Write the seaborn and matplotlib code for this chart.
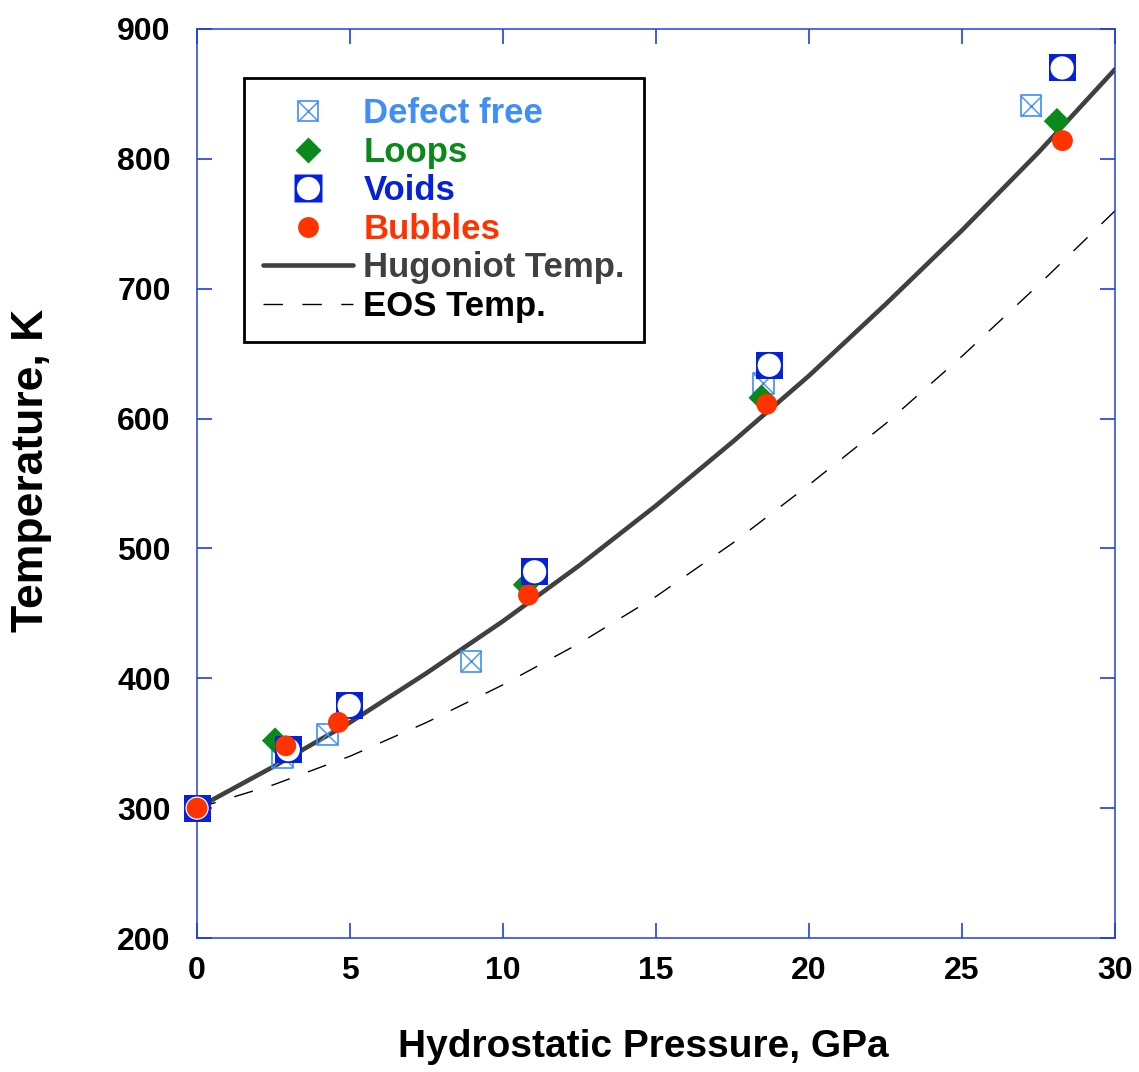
import numpy as np
import pandas as pd
import seaborn as sns
import matplotlib
matplotlib.use("Agg")
import matplotlib.pyplot as plt
from matplotlib.lines import Line2D
from matplotlib.legend_handler import HandlerTuple

# ---------------- data ----------------
defect_P = [2.8, 4.25, 8.95, 18.5, 27.25]
defect_T = [339, 357, 413, 627, 841]

loops_P = [2.55, 10.75, 18.45, 28.1]
loops_T = [352, 472, 616, 829]

voids_P = [0.0, 2.98, 4.97, 11.03, 18.7, 28.27]
voids_T = [300, 345, 379, 482, 641, 870]

bubbles_P = [0.0, 2.9, 4.62, 10.83, 18.62, 28.28]
bubbles_T = [300, 348, 366, 464, 611, 814]

hug_P = [0, 2.5, 5, 7.5, 10, 12.5, 15, 17.5, 20, 22.5, 25, 27.5, 30]
hug_T = [300, 332, 366, 404, 444, 487, 533, 582, 633, 688, 745, 805, 869]

eos_P = [0, 2.5, 5, 7.5, 10, 12.5, 15, 17.5, 20, 22.5, 25, 27.5, 30]
eos_T = [300, 318, 340, 366, 395, 427, 463, 504, 549, 596, 648, 703, 760]

x_ticks = [0, 5, 10, 15, 20, 25, 30]
y_ticks = [200, 300, 400, 500, 600, 700, 800, 900]

labels = ["Defect free", "Loops", "Voids", "Bubbles", "Hugoniot Temp.", "EOS Temp."]

# ---------------- style ----------------
c_defect = "#3f8ff7"
c_loops = "#0a8a1a"
c_voids = "#0622d8"
c_bubbles = "#ff3300"
c_hug = "#404040"
c_eos = "#000000"
c_axis = "#1f3fe0"

sns.set_theme(style="white")
plt.rcParams["font.family"] = ["Liberation Sans", "DejaVu Sans"]
plt.rcParams["font.weight"] = "bold"

fig = plt.figure(figsize=(11.39, 10.72), dpi=100)
ax = fig.add_axes([0.173, 0.125, 0.806, 0.848])

# curves
sns.lineplot(x=hug_P, y=hug_T, ax=ax, color=c_hug, lw=3.3, zorder=2)
sns.lineplot(x=eos_P, y=eos_T, ax=ax, color=c_eos, lw=1.0, zorder=2)
ax.lines[1].set_dashes((14, 14))

# markers
sns.scatterplot(x=defect_P, y=defect_T, ax=ax, marker="s", s=225,
                facecolors="none", edgecolors=c_defect, linewidths=1.2,
                zorder=3, clip_on=False)
sns.scatterplot(x=defect_P, y=defect_T, ax=ax, marker="x", s=225,
                color=c_defect, linewidths=1.0, zorder=3, clip_on=False)
sns.scatterplot(x=loops_P, y=loops_T, ax=ax, marker="D", s=180,
                color=c_loops, edgecolor="none", linewidth=0, zorder=4, clip_on=False)
sns.scatterplot(x=voids_P, y=voids_T, ax=ax, marker="s", s=380,
                color=c_voids, edgecolor="none", linewidth=0, zorder=5, clip_on=False)
sns.scatterplot(x=voids_P, y=voids_T, ax=ax, marker="o", s=280,
                color="white", edgecolor="none", linewidth=0, zorder=6, clip_on=False)
sns.scatterplot(x=bubbles_P, y=bubbles_T, ax=ax, marker="o", s=225,
                color=c_bubbles, edgecolor="none", linewidth=0, zorder=7, clip_on=False)

# axes
ax.set_xlim(0, 30)
ax.set_ylim(200, 900)
ax.set_xticks(x_ticks)
ax.set_yticks(y_ticks)
ax.set_xticklabels([str(v) for v in x_ticks])
ax.set_yticklabels([str(v) for v in y_ticks])
ax.grid(False)
for sp in ax.spines.values():
    sp.set_color(c_axis)
    sp.set_linewidth(1.1)
    sp.set_visible(True)
ax.tick_params(axis="both", which="major", direction="in", length=11, width=1.2,
               color=c_axis, top=True, right=True, bottom=True, left=True,
               labelsize=23, labelcolor="black")
ax.tick_params(axis="y", pad=19)
ax.tick_params(axis="x", pad=13)
for t in ax.get_xticklabels() + ax.get_yticklabels():
    t.set_fontweight("bold")

ax.set_xlabel("Hydrostatic Pressure, GPa", fontsize=28, fontweight="bold", color="black")
ax.set_ylabel("Temperature, K", fontsize=32, fontweight="bold", color="black")
ax.xaxis.set_label_coords(0.486, -0.1)
ax.yaxis.set_label_coords(-0.158, 0.514)

# legend
h_defect = (Line2D([], [], ls="none", marker="s", ms=15, mfc="none", mec=c_defect, mew=1.2),
            Line2D([], [], ls="none", marker="x", ms=15, mec=c_defect, mew=1.0))
h_loops = Line2D([], [], ls="none", marker="D", ms=13.4, mfc=c_loops, mec="none")
h_voids = (Line2D([], [], ls="none", marker="s", ms=19.5, mfc=c_voids, mec="none"),
           Line2D([], [], ls="none", marker="o", ms=16.7, mfc="white", mec="none"))
h_bubbles = Line2D([], [], ls="none", marker="o", ms=15, mfc=c_bubbles, mec="none")
h_hug = Line2D([], [], color=c_hug, lw=3.3)
h_eos = Line2D([], [], color=c_eos, lw=1.0, dashes=(14, 14))

leg = ax.legend([h_defect, h_loops, h_voids, h_bubbles, h_hug, h_eos], labels,
                handler_map={tuple: HandlerTuple(ndivide=1, pad=0)},
                loc="upper left", bbox_to_anchor=(0.051, 0.946), borderaxespad=0,
                prop={"weight": "bold", "size": 25},
                frameon=True, fancybox=False, framealpha=1, edgecolor="black",
                handlelength=2.6, handletextpad=0.29, labelspacing=0.16,
                borderpad=0.55)
leg.get_frame().set_linewidth(2.0)
for txt, col in zip(leg.get_texts(), [c_defect, c_loops, c_voids, c_bubbles, c_hug, c_eos]):
    txt.set_color(col)

fig.savefig("out.png", dpi=100)
